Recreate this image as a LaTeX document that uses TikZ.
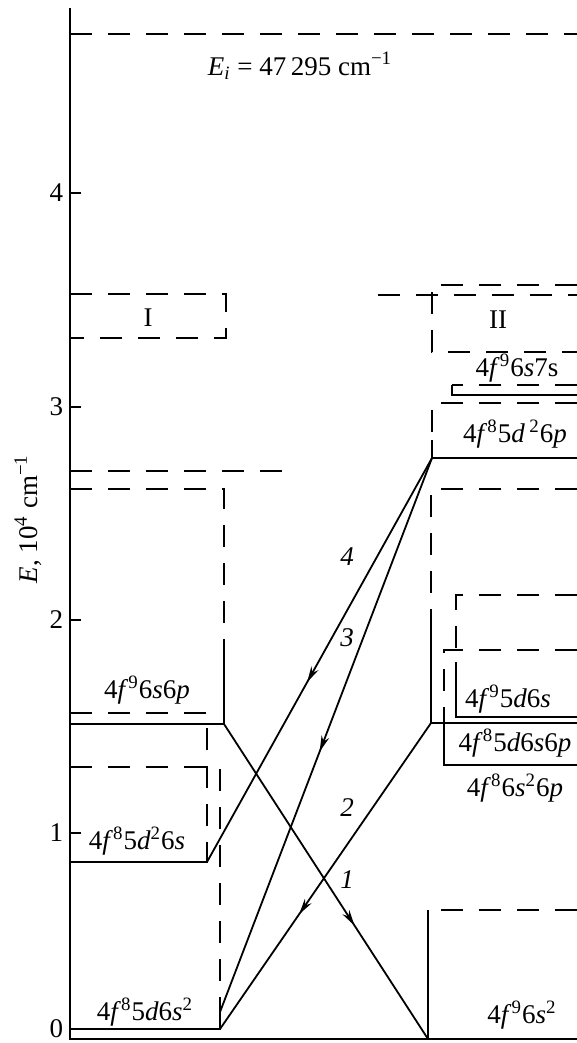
\documentclass[tikz,border=0pt]{standalone}
\usepackage{fontspec}
\setmainfont{Liberation Serif}
\usetikzlibrary{arrows.meta,decorations.markings}
\newcommand{\mns}{\char"2212\relax}
\begin{document}
\begin{tikzpicture}[x=0.5pt,y=-0.5pt,line width=0.9pt,
  dsh/.style={dash pattern=on 11pt off 8pt},
  lab/.style={font=\fontsize{13.5}{15}\selectfont, inner sep=0pt},
  num/.style={font=\fontsize{13.5}{15}\selectfont\itshape, inner sep=0pt},
  trans/.style={postaction={decorate}, decoration={markings, mark=at position #1 with {\arrow{Stealth[length=8pt,width=4pt]}}}},
]
\useasboundingbox (0,0) rectangle (577,1043);
% axis
\coordinate (axtop) at (70,8);
\coordinate (axbot) at (70,1039);
\coordinate (botR) at (577,1039);
\draw (axtop) -- (axbot) -- (botR);
\foreach \v/\yy in {4/193,3/407,2/620,1/833}{
  \draw (70,\yy) -- (81,\yy);
  \node[lab, anchor=east] (t\v) at (64,\yy) {\v};
}
\node[lab, anchor=east] (t0) at (64,1029) {0};
\node[lab, rotate=90] (ylab) at (28,519) {\textit{E}, 10\textsuperscript{4} cm\textsuperscript{\mns1}};
% ionization limit
\draw[dsh] (70,34) -- (577,34);
\node[lab] (ei) at (300,66) {\textit{E}\textsubscript{\textit{i}} = 47\,295 cm\textsuperscript{\mns1}};
% left column
\draw[dsh] (70,294) -- (226,294) -- (226,338) -- (70,338);
\node[lab] (boxI) at (148,318) {I};
\draw[dsh] (70,471) -- (282,471);
% 4f9 6s6p
\draw[dsh] (70,489) -- (224,489) -- (224,645);
\coordinate (p96s6p) at (224,724);
\draw (224,645) -- (p96s6p) -- (70,724);
\node[lab] (l96s6p) at (147,690) {4\textit{f}\textsuperscript{9}6\textit{s}6\textit{p}};
% 4f8 5d2 6s
\coordinate (p85d26s) at (207,862);
\draw[dsh] (70,713) -- (207,713) -- (207,855);
\draw (207,855) -- (p85d26s) -- (70,862);
\node[lab] (l85d26s) at (137,841) {4\textit{f}\textsuperscript{8}5\textit{d}\textsuperscript{2}6\textit{s}};
% 4f8 5d 6s2
\coordinate (p85d6s2a) at (220,1029);
\coordinate (p85d6s2b) at (220,1012);
\draw[dsh] (70,767) -- (220,767) -- (220,1012);
\draw (p85d6s2b) -- (p85d6s2a) -- (70,1029);
\node[lab] (l85d6s2) at (145,1012) {4\textit{f}\textsuperscript{8}5\textit{d}6\textit{s}\textsuperscript{2}};
% right column
\draw[dsh] (378,295) -- (577,295);
\draw[dsh] (577,285) -- (432,285) -- (432,352) -- (577,352);
\node[lab] (boxII) at (498,320) {II};
% 4f9 6s7s
\draw[dsh] (577,385) -- (452,385);
\draw (452,385) -- (452,395) -- (577,395);
\node[lab] (l96s7s) at (517,368) {4\textit{f}\textsuperscript{9}6\textit{s}7s};
% 4f8 5d2 6p
\coordinate (p85d26p) at (432,458);
\draw[dsh] (577,403) -- (432,403) -- (432,440);
\draw (432,440) -- (p85d26p) -- (577,458);
\node[lab] (l85d26p) at (515,434) {4\textit{f}\textsuperscript{8}5\textit{d}\,\textsuperscript{2}6\textit{p}};
% big right box
\coordinate (pR723) at (431,723);
\draw[dsh] (577,489) -- (431,489) -- (431,620);
\draw (431,620) -- (pR723) -- (577,723);
% 4f9 5d 6s
\draw[dsh] (577,595) -- (456,595) -- (456,662);
\draw (456,662) -- (456,717) -- (577,717);
\node[lab] (l95d6s) at (508,699) {4\textit{f}\textsuperscript{9}5\textit{d}6\textit{s}};
% 4f8 ... 6p
\draw[dsh] (577,650) -- (444,650) -- (444,708);
\draw (444,708) -- (444,765) -- (577,765);
\node[lab] (l85d6s6p) at (515,743) {4\textit{f}\textsuperscript{8}5\textit{d}6\textit{s}6\textit{p}};
\node[lab] (l86s26p) at (515,788) {4\textit{f}\textsuperscript{8}6\textit{s}\textsuperscript{2}6\textit{p}};
% ground 4f9 6s2
\coordinate (pgr) at (428,1039);
\draw[dsh] (577,910) -- (428,910);
\draw (428,910) -- (pgr);
\node[lab] (l96s2) at (522,1015) {4\textit{f}\textsuperscript{9}6\textit{s}\textsuperscript{2}};
% transitions
\draw[trans=0.64] (p96s6p) -- (pgr);
\draw[trans=0.625] (pR723) -- (p85d6s2a);
\draw[trans=0.53] (p85d26p) -- (p85d6s2b);
\draw[trans=0.555] (p85d26p) -- (p85d26s);
\node[num] (n4) at (347,557) {4};
\node[num] (n3) at (347,638) {3};
\node[num] (n2) at (347,808) {2};
\node[num] (n1) at (347,880) {1};
\end{tikzpicture}
\end{document}
